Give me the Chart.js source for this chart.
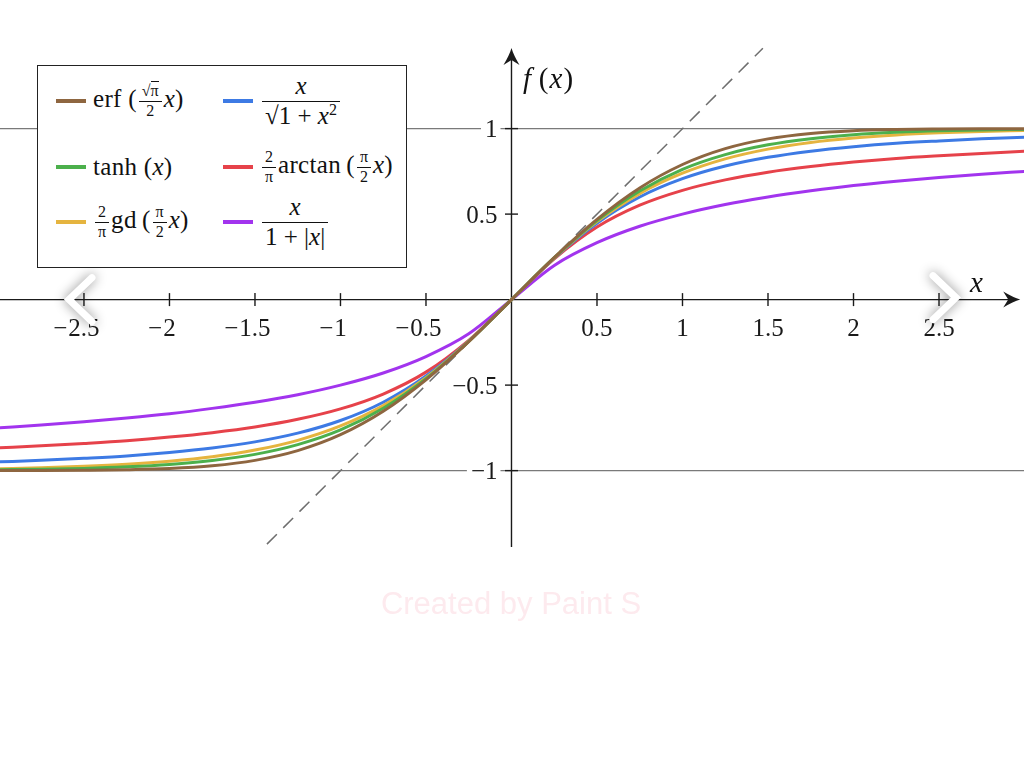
<!DOCTYPE html>
<html>
<head>
<meta charset="utf-8">
<script src="https://cdn.jsdelivr.net/npm/chart.js@4"></script>
<style>
  html, body { margin: 0; padding: 0; background: #fff; }
  #wrap { position: relative; width: 1024px; height: 768px; overflow: hidden;
          font-family: "Liberation Serif", "DejaVu Serif", serif; color: #111; }
  #c { position: absolute; left: 0; top: 0; }
  .legend { position: absolute; left: 37px; top: 65px; width: 368px; height: 201px;
            border: 1.6px solid #222; background: #fff; }
  .item { position: absolute; display: flex; align-items: center; height: 50px;
          font-size: 25px; white-space: nowrap; letter-spacing: 0.3px; }
  .sw { width: 30px; height: 4px; margin-right: 7px; flex: none; }
  .fr { display: inline-flex; flex-direction: column; vertical-align: middle;
        text-align: center; line-height: 1.05; margin: 0 2px; letter-spacing: 0; }
  .fr .n { border-bottom: 1px solid #111; padding: 0 3px 1px; }
  .fr .d { padding: 1px 3px 0; }
  .sm { font-size: 16px; }
  .ov { border-top: 1px solid #111; }
  sup { font-size: 16px; line-height: 0; }
  .lbl { position: absolute; font-size: 29px; line-height: 29px; letter-spacing: 1px; }
</style>
</head>
<body>
<div id="wrap">
  <canvas id="c" width="1024" height="768"></canvas>

  <div class="lbl" style="left:523px; top:64px;"><i>f</i>&thinsp;(<i>x</i>)</div>
  <div class="lbl" style="left:970px; top:268px;"><i>x</i></div>

  <div class="legend">
    <div class="item" style="left:18px; top:10px;">
      <span class="sw" style="background:#8e6640"></span>
      <span>erf&nbsp;(<span class="fr sm"><span class="n">√<span class="ov">π</span></span><span class="d">2</span></span><i>x</i>)</span>
    </div>
    <div class="item" style="left:185px; top:10px;">
      <span class="sw" style="background:#3d7ae4"></span>
      <span class="fr"><span class="n"><i>x</i></span><span class="d">√<span class="ov">1 + <i>x</i><sup>2</sup></span></span></span>
    </div>
    <div class="item" style="left:18px; top:76px;">
      <span class="sw" style="background:#4cb04c"></span>
      <span>tanh&nbsp;(<i>x</i>)</span>
    </div>
    <div class="item" style="left:185px; top:76px;">
      <span class="sw" style="background:#e6424a"></span>
      <span><span class="fr sm"><span class="n">2</span><span class="d">π</span></span>arctan&thinsp;(<span class="fr sm"><span class="n">π</span><span class="d">2</span></span><i>x</i>)</span>
    </div>
    <div class="item" style="left:18px; top:131px;">
      <span class="sw" style="background:#e5b43f"></span>
      <span><span class="fr sm"><span class="n">2</span><span class="d">π</span></span>gd&thinsp;(<span class="fr sm"><span class="n">π</span><span class="d">2</span></span><i>x</i>)</span>
    </div>
    <div class="item" style="left:185px; top:131px;">
      <span class="sw" style="background:#a234ee"></span>
      <span class="fr"><span class="n"><i>x</i></span><span class="d">1 + |<i>x</i>|</span></span>
    </div>
  </div>
</div>

<script>
// x samples and values
const xValues = [-3, -2.75, -2.5, -2.25, -2, -1.75, -1.5, -1.25, -1, -0.75, -0.5, -0.25, 0,
                 0.25, 0.5, 0.75, 1, 1.25, 1.5, 1.75, 2, 2.25, 2.5, 2.75, 3];

const erfValues = [-0.9998, -0.9995, -0.998, -0.995, -0.988, -0.972, -0.940, -0.883, -0.790, -0.653, -0.469, -0.246, 0,
                   0.246, 0.469, 0.653, 0.790, 0.883, 0.940, 0.972, 0.988, 0.995, 0.998, 0.9995, 0.9998];
const tanhValues = [-0.995, -0.992, -0.987, -0.978, -0.964, -0.941, -0.905, -0.848, -0.762, -0.635, -0.462, -0.245, 0,
                    0.245, 0.462, 0.635, 0.762, 0.848, 0.905, 0.941, 0.964, 0.978, 0.987, 0.992, 0.995];
const gdValues = [-0.989, -0.983, -0.975, -0.963, -0.945, -0.919, -0.880, -0.823, -0.739, -0.620, -0.456, -0.244, 0,
                  0.244, 0.456, 0.620, 0.739, 0.823, 0.880, 0.919, 0.945, 0.963, 0.975, 0.983, 0.989];
const sqrtValues = [-0.949, -0.940, -0.928, -0.914, -0.894, -0.868, -0.832, -0.781, -0.707, -0.600, -0.447, -0.243, 0,
                    0.243, 0.447, 0.600, 0.707, 0.781, 0.832, 0.868, 0.894, 0.914, 0.928, 0.940, 0.949];
const arctanValues = [-0.867, -0.855, -0.841, -0.825, -0.804, -0.778, -0.745, -0.700, -0.639, -0.552, -0.424, -0.238, 0,
                      0.238, 0.424, 0.552, 0.639, 0.700, 0.745, 0.778, 0.804, 0.825, 0.841, 0.855, 0.867];
const absValues = [-0.750, -0.733, -0.714, -0.692, -0.667, -0.636, -0.600, -0.556, -0.500, -0.429, -0.333, -0.200, 0,
                   0.200, 0.333, 0.429, 0.500, 0.556, 0.600, 0.636, 0.667, 0.692, 0.714, 0.733, 0.750];

// dashed y = x guide
const guideX = [-1.43, 1.47];
const guideY = [-1.43, 1.47];

const xTickValues = [-2.5, -2, -1.5, -1, -0.5, 0.5, 1, 1.5, 2, 2.5];
const xTickLabels = ['−2.5', '−2', '−1.5', '−1', '−0.5', '0.5', '1', '1.5', '2', '2.5'];
const yTickValues = [1, 0.5, -0.5, -1];
const yTickLabels = ['1', '0.5', '−0.5', '−1'];
const refLines = [1, -1];

const xMin = -2.991, xMax = 2.997;
const yMin = -2.739, yMax = 1.752;
const xAxisEnd = 2.975;
const yAxisStart = -1.447, yAxisEnd = 1.471;

const toPoints = (xs, ys) => xs.map((x, i) => ({ x: x, y: ys[i] }));

function arrow(ctx, x, y, ang) {
  ctx.save();
  ctx.translate(x, y);
  ctx.rotate(ang);
  ctx.beginPath();
  ctx.moveTo(0, 0);
  ctx.quadraticCurveTo(-7, -2, -17, -8);
  ctx.lineTo(-12, 0);
  ctx.lineTo(-17, 8);
  ctx.quadraticCurveTo(-7, 2, 0, 0);
  ctx.closePath();
  ctx.fill();
  ctx.restore();
}

function chevron(ctx, tipX, tipY, dir) {
  ctx.save();
  ctx.strokeStyle = '#fff';
  ctx.lineWidth = 7;
  ctx.lineCap = 'round';
  ctx.lineJoin = 'miter';
  ctx.shadowColor = 'rgba(0,0,0,0.45)';
  ctx.shadowBlur = 12;
  ctx.beginPath();
  ctx.moveTo(tipX + dir * 23, tipY - 22);
  ctx.lineTo(tipX, tipY);
  ctx.lineTo(tipX + dir * 23, tipY + 22);
  ctx.stroke();
  ctx.restore();
}

const mathAxes = {
  id: 'mathAxes',
  beforeDatasetsDraw(chart) {
    const { ctx, chartArea } = chart;
    const xs = chart.scales.x, ys = chart.scales.y;
    const x0 = xs.getPixelForValue(0), y0 = ys.getPixelForValue(0);
    ctx.save();

    // watermark
    ctx.fillStyle = '#fdeaee';
    ctx.font = '31px "Liberation Sans", Arial, sans-serif';
    ctx.textAlign = 'center';
    ctx.textBaseline = 'alphabetic';
    ctx.fillText('Created by Paint S', 511, 614);

    // horizontal guide lines
    ctx.strokeStyle = '#7a7a7a';
    ctx.lineWidth = 1.3;
    refLines.forEach(v => {
      const py = ys.getPixelForValue(v);
      ctx.beginPath();
      ctx.moveTo(chartArea.left, py);
      ctx.lineTo(chartArea.right, py);
      ctx.stroke();
    });

    // axes
    ctx.strokeStyle = '#1a1a1a';
    ctx.fillStyle = '#1a1a1a';
    ctx.lineWidth = 1.4;
    const xe = xs.getPixelForValue(xAxisEnd);
    ctx.beginPath();
    ctx.moveTo(chartArea.left, y0);
    ctx.lineTo(xe - 8, y0);
    ctx.stroke();
    arrow(ctx, xe, y0, 0);
    const yTop = ys.getPixelForValue(yAxisEnd), yBot = ys.getPixelForValue(yAxisStart);
    ctx.beginPath();
    ctx.moveTo(x0, yBot);
    ctx.lineTo(x0, yTop + 8);
    ctx.stroke();
    arrow(ctx, x0, yTop, -Math.PI / 2);

    // ticks + labels
    ctx.font = '25px "Liberation Serif", serif';
    ctx.textBaseline = 'alphabetic';
    xTickValues.forEach((v, i) => {
      const px = xs.getPixelForValue(v);
      ctx.beginPath();
      ctx.moveTo(px, y0 - 6.5);
      ctx.lineTo(px, y0 + 6.5);
      ctx.stroke();
      const lab = xTickLabels[i];
      const neg = lab.startsWith('−');
      const num = neg ? lab.slice(1) : lab;
      const w = ctx.measureText(num).width;
      ctx.textAlign = 'left';
      ctx.fillText(num, px - w / 2, y0 + 36);
      if (neg) {
        ctx.textAlign = 'right';
        ctx.fillText('−', px - w / 2 - 1, y0 + 36);
      }
    });
    yTickValues.forEach((v, i) => {
      const py = ys.getPixelForValue(v);
      const lab = yTickLabels[i];
      const w = ctx.measureText(lab).width;
      const rx = x0 - 14;
      ctx.fillStyle = '#fff';
      ctx.fillRect(rx - w - 4, py - 11, w + 7, 22);
      ctx.fillStyle = '#1a1a1a';
      ctx.beginPath();
      ctx.moveTo(x0 - 6.5, py);
      ctx.lineTo(x0 + 6.5, py);
      ctx.stroke();
      ctx.textAlign = 'right';
      ctx.fillText(lab, rx, py + 8.5);
    });
    ctx.restore();
  },
  afterDraw(chart) {
    const ctx = chart.ctx;
    const y0 = chart.scales.y.getPixelForValue(0);
    chevron(ctx, 69, y0, 1);
    chevron(ctx, 956, y0 - 2, -1);
  }
};

const line = (label, color, ys) => ({
  label: label,
  data: toPoints(xValues, ys),
  borderColor: color,
  borderWidth: 3,
  pointRadius: 0,
  cubicInterpolationMode: 'monotone',
  fill: false
});

new Chart(document.getElementById('c'), {
  type: 'line',
  data: {
    datasets: [
      line('erf', '#8e6640', erfValues),
      line('tanh', '#4cb04c', tanhValues),
      line('gd', '#e5b43f', gdValues),
      line('sqrt', '#3d7ae4', sqrtValues),
      line('arctan', '#e6424a', arctanValues),
      line('abs', '#a234ee', absValues),
      {
        label: 'y = x',
        data: toPoints(guideX, guideY),
        borderColor: '#6e6e6e',
        borderWidth: 1.5,
        borderDash: [14, 9],
        pointRadius: 0,
        tension: 0,
        fill: false
      }
    ]
  },
  options: {
    responsive: false,
    animation: false,
    devicePixelRatio: 1,
    layout: { padding: 0 },
    plugins: { legend: { display: false }, tooltip: { enabled: false } },
    scales: {
      x: { type: 'linear', min: xMin, max: xMax, display: false },
      y: { type: 'linear', min: yMin, max: yMax, display: false }
    }
  },
  plugins: [mathAxes]
});
</script>
</body>
</html>
